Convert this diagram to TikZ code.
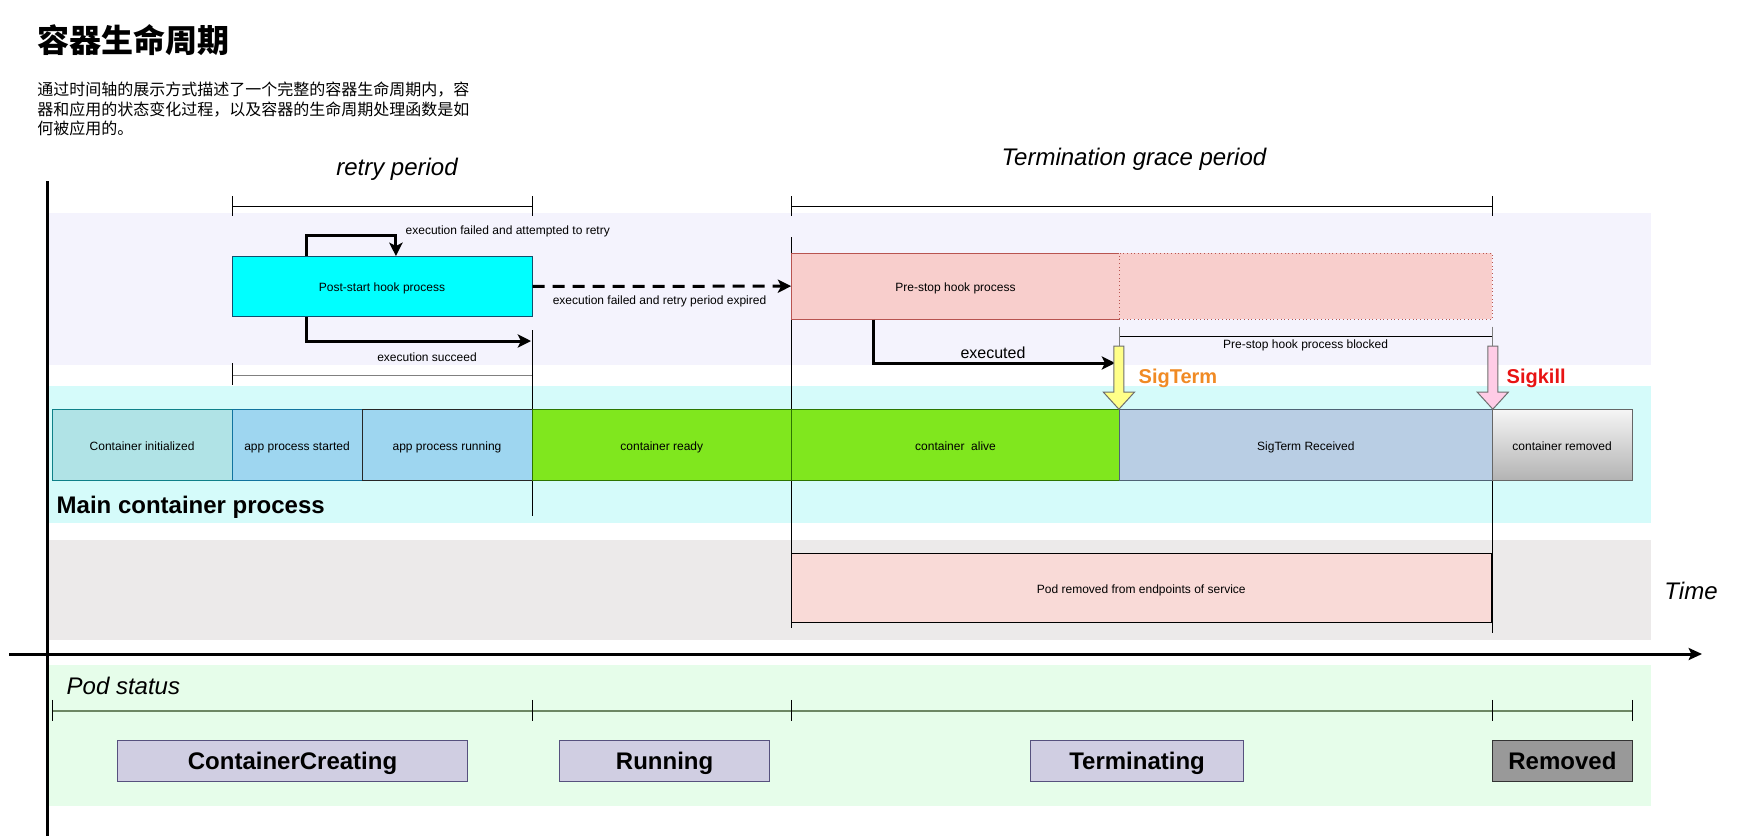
\documentclass[tikz,border=0pt]{standalone}
\usepackage{fontspec}
\setmainfont{Liberation Sans}
\newfontfamily\cjk{Noto Sans CJK SC}
\usetikzlibrary{arrows.meta,fit,calc}

\definecolor{lavband}{HTML}{F4F3FD}
\definecolor{cyanband}{HTML}{D5FBFA}
\definecolor{greyband}{HTML}{ECEAEA}
\definecolor{greenband}{HTML}{E6FDEA}
\definecolor{pshfill}{HTML}{00FFFF}
\definecolor{pshline}{HTML}{10506E}
\definecolor{pspfill}{HTML}{F8CECC}
\definecolor{pspline}{HTML}{B85450}
\definecolor{cifill}{HTML}{B0E3E6}
\definecolor{ciline}{HTML}{0E8088}
\definecolor{apfill}{HTML}{9ED6F0}
\definecolor{apline}{HTML}{10739E}
\definecolor{grfill}{HTML}{80E71E}
\definecolor{grline}{HTML}{2D7600}
\definecolor{strfill}{HTML}{B9CEE4}
\definecolor{strline}{HTML}{4F6275}
\definecolor{podfill}{HTML}{F9DAD7}
\definecolor{statfill}{HTML}{D0CEE2}
\definecolor{statline}{HTML}{56517E}
\definecolor{remfill}{HTML}{999999}
\definecolor{remline}{HTML}{333333}
\definecolor{podline}{HTML}{6D8764}
\definecolor{sigyellow}{HTML}{FFFF88}
\definecolor{sigpink}{HTML}{FFCCE6}
\definecolor{sigline}{HTML}{6E6E6E}
\definecolor{termorange}{HTML}{F08A24}
\definecolor{killred}{HTML}{E81313}

\tikzset{
  band/.style={draw=none},
  box/.style={draw, line width=0.75pt, inner sep=0pt},
  boxtext/.style={label={[font=\fontsize{9}{11}\selectfont, inner sep=0pt, text height=0.72em, text depth=0.21em, yshift=-1.6pt]center:{#1}}},
  statusbox/.style={box, fill=statfill, draw=statline},
  statustext/.style={label={[font=\bfseries\fontsize{18}{22}\selectfont, inner sep=0pt, text height=0.72em, text depth=0.21em, yshift=-3.6pt]center:{#1}}},
  bigarrow/.style={line width=2.25pt, -{Stealth[length=10pt,width=10pt,inset=2.5pt]}},
  thinline/.style={line width=0.75pt},
  period/.style={font=\itshape\fontsize{18}{22}\selectfont},
  small/.style={font=\fontsize{9}{11}\selectfont},
  signal/.style={font=\bfseries\fontsize{15}{18}\selectfont, anchor=west},
  pics/sigarrow/.style={code={
    \draw[fill=#1, draw=sigline, line width=0.75pt]
      (-5,-63) -- (5,-63) -- (5,-17) -- (15.5,-17) -- (0,0)
      -- (-15.5,-17) -- (-5,-17) -- cycle;}}
}

\begin{document}
\begin{tikzpicture}[x=0.75pt, y=-0.75pt]
\useasboundingbox (0,0) rectangle (1741,836);

% background bands
\fill[lavband]   (47.7,213) rectangle (1651,365);
\fill[cyanband]  (47.7,386) rectangle (1651,523);
\fill[greyband]  (47.7,540) rectangle (1651,640);
\fill[greenband] (47.7,665) rectangle (1651,806);

% heading
\node[anchor=west, inner sep=0, font=\cjk\bfseries\fontsize{24}{29}\selectfont] (title) at (37,40) {容器生命周期};
\node[anchor=north west, inner sep=0, align=left, font=\cjk\fontsize{12}{14.55}\selectfont] (desc) at (37,82)
  {通过时间轴的展示方式描述了一个完整的容器生命周期内，容\\器和应用的状态变化过程，以及容器的生命周期处理函数是如\\何被应用的。};

% period brackets
\coordinate (rpa) at (232,206);
\coordinate (rpb) at (532,206);
\draw[thinline] (rpa) -- (rpb);
\draw[thinline] ([yshift=7.5pt]rpa) -- ([yshift=-7.5pt]rpa);
\draw[thinline] ([yshift=7.5pt]rpb) -- ([yshift=-7.5pt]rpb);
\node[period] (retry) at (397,169) {retry period};

\coordinate (tga) at (791.6,206);
\coordinate (tgb) at (1492.3,206);
\draw[thinline] (tga) -- (tgb);
\draw[thinline] ([yshift=7.5pt]tga) -- ([yshift=-7.5pt]tga);
\draw[thinline] ([yshift=7.5pt]tgb) -- ([yshift=-7.5pt]tgb);
\node[period] (grace) at (1134,159) {Termination grace period};

% vertical time markers
\coordinate (m1a) at (532,330);    \coordinate (m1b) at (532,516);
\coordinate (m2a) at (791.6,237);  \coordinate (m2b) at (791.6,628);
\coordinate (m3a) at (1492.3,481); \coordinate (m3b) at (1492.3,633);
\draw[thinline] (m1a) -- (m1b);
\draw[thinline] (m2a) -- (m2b);
\draw[thinline] (m3a) -- (m3b);

% hook processes
\node[box, fill=pshfill, draw=pshline, fit={(232,256.5) (532,316.4)}, boxtext={Post-start hook process}] (psh) {};
\node[box, fill=pspfill, draw=pspline, fit={(791.6,253.3) (1119.4,319)}, boxtext={Pre-stop hook process}] (psp) {};
\node[box, fill=pspfill, draw=pspline, dotted, fit={(1119.4,253.3) (1492.3,319)}] (blk) {};

% post-start hook outcomes
\draw[bigarrow] ($(psh.north west)+(74.5,0)$) -- ++(0,-21) -| ($(psh.north west)+(164.4,0)$);
\node[small, anchor=west] (retrylbl) at (401,231) {execution failed and attempted to retry};
\coordinate (succend) at (531,341);
\draw[bigarrow] ($(psh.south west)+(74.5,0)$) |- (succend);
\node[small] (succlbl) at (427,357.5) {execution succeed};
\coordinate (sba) at (232,375);
\coordinate (sbb) at (532,375);
\draw[thinline, draw=gray] (sba) -- (sbb);
\draw[thinline] ([yshift=9pt]sba) -- ([yshift=-7.5pt]sba);
\draw[bigarrow, dash pattern=on 9pt off 6pt] (psh.east) -- (psp.west);
\node[small] (expiredlbl) at (659.5,301) {execution failed and retry period expired};

% pre-stop hook outcome
\coordinate (exend) at (1115,363);
\draw[bigarrow] ($(psp.south west)+(82.4,0)$) |- (exend);
\node[font=\fontsize{12}{14}\selectfont] (execlbl) at (993,353) {executed};

\coordinate (bla) at (1119.4,336);
\coordinate (blb) at (1492.3,336);
\draw[thinline] (bla) -- (blb);
\draw[thinline, draw=gray] ([yshift=7pt]bla) -- ([yshift=-8pt]bla);
\draw[thinline, draw=gray] ([yshift=7pt]blb) -- ([yshift=-8pt]blb);
\node[small] (blklbl) at (1305.6,345.5) {Pre-stop hook process blocked};

% main container states
\node[box, fill=cifill, draw=ciline, fit={(52.2,409.7) (232,480.8)}, boxtext={Container initialized}] (ci) {};
\node[box, fill=apfill, draw=apline, fit={(232,409.7) (362,480.8)}, boxtext={app process started}] (aps) {};
\node[box, fill=apfill, draw=black!85, fit={(362,409.7) (532,480.8)}, boxtext={app process running}] (apr) {};
\node[box, fill=grfill, draw=grline, fit={(532,409.7) (791.6,480.8)}, boxtext={container ready}] (cr) {};
\node[box, fill=grfill, draw=grline, fit={(791.6,409.7) (1119.4,480.8)}, boxtext={container\ \ alive}] (ca) {};
\node[box, fill=strfill, draw=strline, fit={(1119.4,409.7) (1492.3,480.8)}, boxtext={SigTerm Received}] (str) {};
\node[box, top color=black!4, bottom color=black!30, draw=black!60, fit={(1492.3,409.7) (1632,480.8)}, boxtext={container removed}] (crm) {};
\node[anchor=west, font=\bfseries\fontsize{18}{22}\selectfont] (mainlbl) at (52,507) {Main container process};

% signals
\pic at (str.north west) {sigarrow=sigyellow};
\pic at (str.north east) {sigarrow=sigpink};
\node[signal, text=termorange] (sigterm) at (1134,378) {SigTerm};
\node[signal, text=killred] (sigkill) at (1502,378) {Sigkill};

% service endpoints
\node[box, fill=podfill, draw=black, fit={(791.6,553) (1491,622)}, boxtext={Pod removed from endpoints of service}] (endp) {};

% axes
\coordinate (yaxa) at (47.7,181);
\coordinate (yaxb) at (47.7,836);
\draw[line width=2.25pt] (yaxa) -- (yaxb);
\coordinate (taxa) at (9,654);
\coordinate (taxb) at (1702,654);
\draw[line width=2.25pt, -{Stealth[length=10pt,width=9pt,inset=2pt]}] (taxa) -- (taxb);
\node[period] (timelbl) at (1691,591) {Time};

% pod status
\node[period, anchor=west] (podlbl) at (62,686) {Pod status};
\coordinate (pa) at (52.2,710.6);
\coordinate (pb) at (532,710.6);
\coordinate (pc) at (791.6,710.6);
\coordinate (pd) at (1492.3,710.6);
\coordinate (pe) at (1632,710.6);
\draw[line width=1.5pt, draw=podline] (pa) -- (pe);
\foreach \p in {pa,pb,pc,pd,pe}
  \draw[thinline] ([yshift=8pt]\p) -- ([yshift=-8pt]\p);

\node[statusbox, fit={(117.7,740.4) (467.4,781.7)}, statustext={ContainerCreating}] (cc) {};
\node[statusbox, fit={(559.6,740.4) (769.6,781.7)}, statustext={Running}] (run) {};
\node[statusbox, fit={(1030.4,740.4) (1243.8,781.7)}, statustext={Terminating}] (term) {};
\node[statusbox, fill=remfill, draw=remline, fit={(1492.5,740.4) (1632.3,781.7)}, statustext={Removed}] (rem) {};
\end{tikzpicture}
\end{document}
